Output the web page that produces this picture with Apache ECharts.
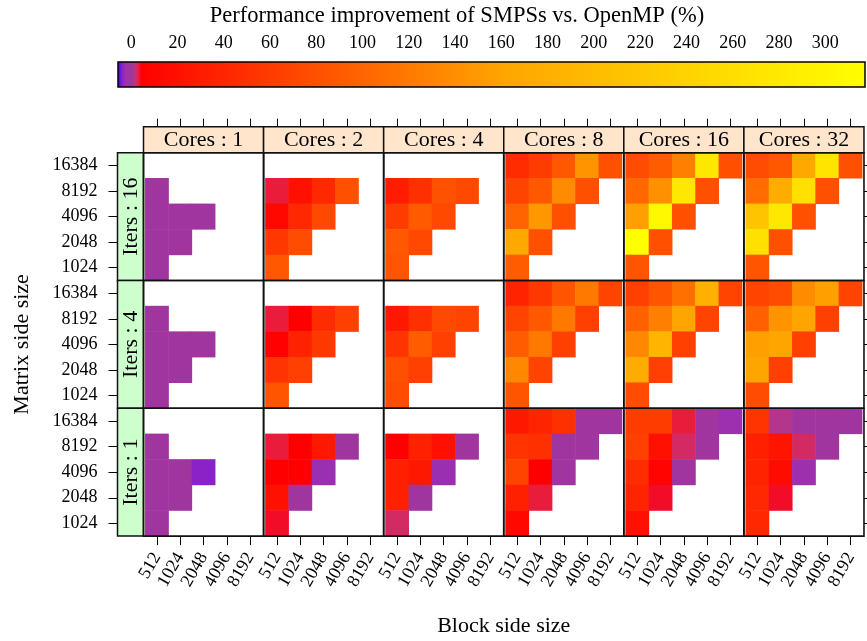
<!DOCTYPE html>
<html>
<head>
<meta charset="utf-8">
<script src="https://cdn.jsdelivr.net/npm/echarts@6/dist/echarts.min.js"></script>
<style>
  html, body { margin: 0; padding: 0; background: #fff; }
  #chart { width: 867px; height: 641px; }
</style>
</head>
<body>
<div id="chart"></div>
<script>
// Axis categories
const blockSizes = ['512', '1024', '2048', '4096', '8192'];
const matrixSizes = ['1024', '2048', '4096', '8192', '16384']; // bottom to top
const coreCounts = [1, 2, 4, 8, 16, 32];                       // panel columns
const iterCounts = [16, 4, 1];                                  // panel rows, top to bottom
const keyTicks = [0, 20, 40, 60, 80, 100, 120, 140, 160, 180, 200, 220, 240, 260, 280, 300];

// Improvement (%) per panel. Rows: matrix 16384, 8192, 4096, 2048, 1024.
// Columns: block 512, 1024, 2048, 4096, 8192. null = configuration not run.
const it16_c1 = [
  [null, null, null, null, null],
  [0.3, null, null, null, null],
  [0.1, -0.4, 0.2, null, null],
  [0.4, -0.2, null, null, null],
  [-0.1, null, null, null, null]
];
const it16_c2 = [
  [null, null, null, null, null],
  [3.5, 20.1, 42.5, 80.3, null],
  [12.3, 42.5, 73.4, null, null],
  [57.9, 77.2, null, null, null],
  [88.0, null, null, null, null]
];
const it16_c4 = [
  [null, null, null, null, null],
  [31.7, 50.2, 82.6, 73.4, null],
  [61.8, 90.4, 73.4, null, null],
  [88.0, 73.4, null, null, null],
  [84.2, null, null, null, null]
];
const it16_c8 = [
  [46.3, 61.8, 88.0, 145.2, 80.3],
  [69.5, 88.0, 137.5, 80.3, null],
  [99.6, 149.1, 80.3, null, null],
  [165.8, 80.3, null, null, null],
  [91.9, null, null, null, null]
];
const it16_c16 = [
  [77.2, 91.9, 125.9, 277.5, 80.3],
  [103.5, 141.3, 277.5, 80.3, null],
  [156.8, 304.4, 80.3, null, null],
  [317.0, 80.3, null, null, null],
  [84.2, null, null, null, null]
];
const it16_c32 = [
  [77.2, 88.0, 165.8, 270.5, 80.3],
  [107.4, 172.9, 263.4, 80.3, null],
  [215.2, 277.5, 80.3, null, null],
  [263.4, 80.3, null, null, null],
  [84.2, null, null, null, null]
];

const it4_c1 = [
  [null, null, null, null, null],
  [0.2, null, null, null, null],
  [-0.3, 0.1, 0.4, null, null],
  [0.2, -0.1, null, null, null],
  [0.3, null, null, null, null]
];
const it4_c2 = [
  [null, null, null, null, null],
  [3.5, 5.0, 46.3, 65.6, null],
  [6.2, 37.1, 57.9, null, null],
  [54.1, 65.6, null, null, null],
  [84.2, null, null, null, null]
];
const it4_c4 = [
  [null, null, null, null, null],
  [27.8, 50.2, 73.4, 69.5, null],
  [54.1, 91.9, 65.6, null, null],
  [80.3, 65.6, null, null, null],
  [77.2, null, null, null, null]
];
const it4_c8 = [
  [39.4, 57.9, 84.2, 118.9, 69.5],
  [69.5, 88.0, 118.9, 65.6, null],
  [91.9, 118.9, 65.6, null, null],
  [133.6, 69.5, null, null, null],
  [84.2, null, null, null, null]
];
const it4_c16 = [
  [65.6, 84.2, 111.2, 180.0, 69.5],
  [95.8, 125.9, 160.7, 69.5, null],
  [133.6, 187.0, 65.6, null, null],
  [172.9, 65.6, null, null, null],
  [77.2, null, null, null, null]
];
const it4_c32 = [
  [69.5, 77.2, 137.5, 156.8, 69.5],
  [95.8, 145.2, 160.7, 65.6, null],
  [156.8, 160.7, 65.6, null, null],
  [160.7, 65.6, null, null, null],
  [77.2, null, null, null, null]
];

const it1_c1 = [
  [null, null, null, null, null],
  [0.2, null, null, null, null],
  [0.1, -0.3, -3.6, null, null],
  [0.4, 0.2, null, null, null],
  [-0.1, null, null, null, null]
];
const it1_c2 = [
  [null, null, null, null, null],
  [3.5, 5.0, 27.8, 0.3, null],
  [5.0, 5.4, -2.3, null, null],
  [20.1, -0.2, null, null, null],
  [4.0, null, null, null, null]
];
const it1_c4 = [
  [null, null, null, null, null],
  [5.0, 35.5, 20.1, 0.1, null],
  [35.5, 27.8, -2.3, null, null],
  [35.5, 0.3, null, null, null],
  [2.5, null, null, null, null]
];
const it1_c8 = [
  [27.8, 39.4, 50.2, 0.2, -0.4],
  [54.1, 50.2, 0.1, 0.3, null],
  [69.5, 5.0, -0.1, null, null],
  [35.5, 3.5, null, null, null],
  [12.3, null, null, null, null]
];
const it1_c16 = [
  [61.8, 61.8, 3.5, 0.2, -2.1],
  [65.6, 20.1, 2.5, 0.4, null],
  [46.3, 9.2, -0.3, null, null],
  [39.4, 4.0, null, null, null],
  [20.1, null, null, null, null]
];
const it1_c32 = [
  [54.1, 1.5, 0.2, 0.1, 0.3],
  [35.5, 23.9, 2.5, -0.2, null],
  [39.4, 16.2, -2.0, null, null],
  [42.5, 4.0, null, null, null],
  [42.5, null, null, null, null]
];

const panelRows = [
  [it16_c1, it16_c2, it16_c4, it16_c8, it16_c16, it16_c32],
  [it4_c1, it4_c2, it4_c4, it4_c8, it4_c16, it4_c32],
  [it1_c1, it1_c2, it1_c4, it1_c8, it1_c16, it1_c32]
];

// Colour key: blue -> purple around zero, then red -> orange -> yellow
const KEY_MIN = -5.7, KEY_MAX = 317.2;
const paletteStops = [
  [-5.7, '#2a00ff'], [-3.6, '#8a22c8'], [-2.2, '#9c30b0'], [-1.0, '#a035a0'],
  [1.0, '#a035a0'], [1.5, '#b4358c'], [2.5, '#d42a64'], [3.5, '#e91c3c'],
  [4.0, '#f20c28'], [5.0, '#ff0000'], [161.1, '#ffa500'], [317.2, '#ffff00']
];
function hexRgb(h) { return [1, 3, 5].map(i => parseInt(h.substr(i, 2), 16)); }
function paletteAt(v) {
  if (v <= paletteStops[0][0]) return paletteStops[0][1];
  for (let i = 1; i < paletteStops.length; i++) {
    const [v1, c1] = paletteStops[i];
    if (v <= v1) {
      const [v0, c0] = paletteStops[i - 1];
      const t = (v - v0) / (v1 - v0);
      const a = hexRgb(c0), b = hexRgb(c1);
      const m = a.map((x, k) => Math.round(x + (b[k] - x) * t));
      return 'rgb(' + m.join(',') + ')';
    }
  }
  return paletteStops[paletteStops.length - 1][1];
}
const RAMP_N = 3230;
const rampColors = [];
for (let i = 0; i < RAMP_N; i++) rampColors.push(paletteAt(KEY_MIN + i * (KEY_MAX - KEY_MIN) / (RAMP_N - 1)));

// Layout
const FONT = '"Liberation Serif", "Times New Roman", serif';
const PANEL_X0 = 143.5, PANEL_W = 120.08, PANEL_Y0 = 152.7, PANEL_H = 127.8;
const CELL_PAD = 1.8, STRIP = 26;
const KEY_BOX = { x: 118, y: 62, w: 747, h: 25 };
const INK = '#000';

function cellsOf(matrix) {
  const out = [];
  matrix.forEach((row, i) => row.forEach((v, j) => {
    if (v !== null) out.push([j, matrixSizes.length - 1 - i, v]);
  }));
  return out;
}
const tick = len => ({ show: true, alignWithLabel: true, interval: 0, length: len, inside: false,
  lineStyle: { color: INK, width: 1 } });

const grids = [], xAxes = [], yAxes = [], series = [];
iterCounts.forEach((it, r) => {
  coreCounts.forEach((cores, c) => {
    const gi = grids.length;
    grids.push({
      left: PANEL_X0 + c * PANEL_W + CELL_PAD,
      top: PANEL_Y0 + r * PANEL_H,
      width: PANEL_W - 2 * CELL_PAD,
      height: PANEL_H,
      outerBoundsMode: 'none'
    });
    const xi = xAxes.length;
    xAxes.push({
      gridIndex: gi, type: 'category', data: blockSizes, position: 'bottom',
      show: r === iterCounts.length - 1,
      axisLine: { show: false }, splitLine: { show: false },
      axisTick: tick(9),
      axisLabel: { show: true, interval: 0, rotate: 60, margin: 18, fontSize: 18,
        fontFamily: FONT, color: INK }
    });
    if (r === 0) {
      xAxes.push({
        gridIndex: gi, type: 'category', data: blockSizes, position: 'top', offset: STRIP,
        axisLine: { show: false }, splitLine: { show: false },
        axisTick: tick(8), axisLabel: { show: false }
      });
    }
    const yi = yAxes.length;
    yAxes.push({
      gridIndex: gi, type: 'category', data: matrixSizes, position: 'left',
      offset: CELL_PAD + STRIP, show: c === 0,
      axisLine: { show: false }, splitLine: { show: false },
      axisTick: tick(9),
      axisLabel: { show: true, interval: 0, margin: 20, fontSize: 18, fontFamily: FONT, color: INK }
    });
    if (c === coreCounts.length - 1) {
      yAxes.push({
        gridIndex: gi, type: 'category', data: matrixSizes, position: 'right', offset: CELL_PAD,
        axisLine: { show: false }, splitLine: { show: false },
        axisTick: tick(9), axisLabel: { show: false }
      });
    }
    series.push({
      type: 'heatmap', xAxisIndex: xi, yAxisIndex: yi,
      data: cellsOf(panelRows[r][c]),
      itemStyle: { borderWidth: 0 },
      emphasis: { disabled: true }, silent: true, animation: false
    });
  });
});

// Scale of the colour key
const keyGrid = grids.length;
grids.push({ left: KEY_BOX.x, top: KEY_BOX.y, width: KEY_BOX.w, height: KEY_BOX.h, outerBoundsMode: 'none' });
xAxes.push({
  gridIndex: keyGrid, type: 'value', position: 'top', min: KEY_MIN, max: KEY_MAX,
  axisLine: { show: false }, splitLine: { show: false },
  axisTick: { show: true, length: 8, inside: false, customValues: keyTicks, lineStyle: { color: INK, width: 1 } },
  axisLabel: { show: true, customValues: keyTicks, margin: 10, fontSize: 18, fontFamily: FONT, color: INK }
});
yAxes.push({ gridIndex: keyGrid, type: 'value', show: false });

// Frames, strips and titles
const graphics = [];
const span = KEY_MAX - KEY_MIN;
graphics.push({
  type: 'rect', z: 20,
  shape: { x: KEY_BOX.x, y: KEY_BOX.y, width: KEY_BOX.w, height: KEY_BOX.h },
  style: {
    fill: { type: 'linear', x: 0, y: 0, x2: 1, y2: 0,
      colorStops: paletteStops.map(([v, col]) => ({ offset: (v - KEY_MIN) / span, color: col })) },
    stroke: INK, lineWidth: 1.5
  }
});
graphics.push({
  type: 'text', x: 457, y: 16, z: 20,
  style: { text: 'Performance improvement of SMPSs vs. OpenMP (%)', font: '22.5px ' + FONT,
    fill: INK, align: 'center', verticalAlign: 'middle' }
});
coreCounts.forEach((cores, c) => {
  const x = PANEL_X0 + c * PANEL_W;
  graphics.push({
    type: 'rect', z: 20,
    shape: { x: x, y: PANEL_Y0 - STRIP, width: PANEL_W, height: STRIP },
    style: { fill: '#ffe5cc', stroke: '#111', lineWidth: 1.5 }
  });
  graphics.push({
    type: 'text', z: 21, x: x + PANEL_W / 2, y: PANEL_Y0 - STRIP / 2 + 1,
    style: { text: 'Cores : ' + cores, font: '22px ' + FONT, fill: INK, align: 'center', verticalAlign: 'middle' }
  });
});
iterCounts.forEach((it, r) => {
  const y = PANEL_Y0 + r * PANEL_H;
  graphics.push({
    type: 'rect', z: 20,
    shape: { x: PANEL_X0 - STRIP, y: y, width: STRIP, height: PANEL_H },
    style: { fill: '#ccffcc', stroke: '#111', lineWidth: 1.5 }
  });
  graphics.push({
    type: 'text', z: 21, x: PANEL_X0 - STRIP / 2 + 1, y: y + PANEL_H / 2, rotation: Math.PI / 2,
    style: { text: 'Iters : ' + it, font: '22px ' + FONT, fill: INK, align: 'center', verticalAlign: 'middle' }
  });
  coreCounts.forEach((cores, c) => {
    graphics.push({
      type: 'rect', z: 22,
      shape: { x: PANEL_X0 + c * PANEL_W, y: y, width: PANEL_W, height: PANEL_H },
      style: { fill: null, stroke: '#111', lineWidth: 1.6 }
    });
  });
});
graphics.push({
  type: 'text', z: 20, x: PANEL_X0 + 3 * PANEL_W, y: 626,
  style: { text: 'Block side size', font: '22px ' + FONT, fill: INK, align: 'center', verticalAlign: 'middle' }
});
graphics.push({
  type: 'text', z: 20, x: 22, y: PANEL_Y0 + 1.5 * PANEL_H, rotation: Math.PI / 2,
  style: { text: 'Matrix side size', font: '22px ' + FONT, fill: INK, align: 'center', verticalAlign: 'middle' }
});

const chart = echarts.init(document.getElementById('chart'), null, { renderer: 'canvas' });
chart.setOption({
  animation: false,
  backgroundColor: '#fff',
  grid: grids,
  xAxis: xAxes,
  yAxis: yAxes,
  visualMap: {
    type: 'continuous', show: false, min: KEY_MIN, max: KEY_MAX,
    seriesIndex: series.map((s, i) => i),
    inRange: { color: rampColors }
  },
  graphic: { elements: graphics },
  series: series
});
</script>
</body>
</html>
